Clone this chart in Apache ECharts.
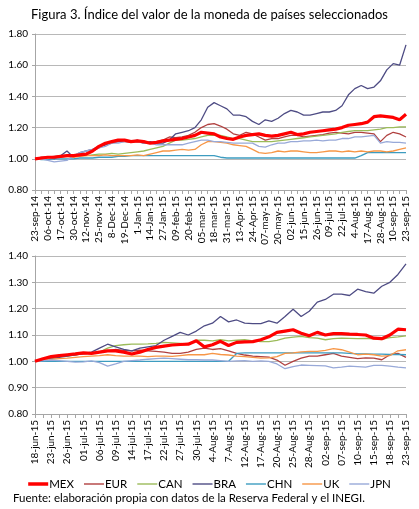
<!DOCTYPE html>
<html>
<head>
<meta charset="utf-8">
<script src="https://cdn.jsdelivr.net/npm/echarts@6/dist/echarts.min.js"></script>
<style>html,body{margin:0;padding:0;background:#fff;}#c{width:419px;height:509px;}</style>
</head>
<body>
<div id="c"></div>
<script>
// ---- Data: top panel (23-sep-14 .. 23-sep-15) ----
const topDates = ['23-sep-14','29-sep-14','06-oct-14','10-oct-14','17-oct-14','23-oct-14','30-oct-14','05-nov-14','12-nov-14','18-nov-14','25-nov-14','01-dec-14','8-Dec-14','12-Dec-14','19-Dec-14','25-Dec-14','1-Jan-15','07-jan-15','14-Jan-15','20-jan-15','27-Jan-15','02-feb-15','09-feb-15','13-feb-15','20-feb-15','26-feb-15','05-mar-15','11-mar-15','18-mar-15','24-mar-15','31-mar-15','06-apr-15','13-Apr-15','17-apr-15','24-Apr-15','30-apr-15','07-may-15','13-may-15','20-may-15','26-may-15','02-jun-15','08-jun-15','15-jun-15','19-jun-15','26-jun-15','02-jul-15','09-jul-15','15-jul-15','22-jul-15','28-jul-15','4-Aug-15','11-Aug-15','17-Aug-15','21-Aug-15','28-Aug-15','03-sep-15','10-sep-15','16-sep-15','23-sep-15'];
const topMEX = [1.00,1.005,1.01,1.01,1.015,1.02,1.02,1.025,1.03,1.05,1.08,1.10,1.11,1.12,1.12,1.11,1.115,1.11,1.10,1.105,1.115,1.12,1.125,1.13,1.14,1.15,1.17,1.165,1.16,1.14,1.13,1.125,1.14,1.15,1.155,1.16,1.15,1.145,1.15,1.16,1.17,1.155,1.16,1.17,1.175,1.18,1.185,1.19,1.20,1.215,1.22,1.225,1.235,1.27,1.275,1.27,1.265,1.25,1.285];
const topEUR = [1.00,1.01,1.01,1.015,1.02,1.02,1.025,1.03,1.035,1.05,1.07,1.09,1.10,1.11,1.11,1.105,1.11,1.10,1.10,1.11,1.12,1.14,1.135,1.14,1.15,1.17,1.20,1.22,1.225,1.21,1.19,1.16,1.15,1.17,1.16,1.14,1.12,1.13,1.13,1.14,1.15,1.15,1.14,1.145,1.15,1.155,1.165,1.17,1.165,1.16,1.17,1.17,1.165,1.16,1.11,1.15,1.17,1.16,1.14];
const topCAN = [1.00,1.005,1.01,1.01,1.015,1.015,1.02,1.02,1.02,1.025,1.03,1.03,1.035,1.03,1.035,1.04,1.045,1.05,1.06,1.07,1.08,1.10,1.12,1.12,1.125,1.13,1.14,1.15,1.15,1.15,1.14,1.13,1.13,1.12,1.11,1.11,1.11,1.11,1.115,1.12,1.125,1.13,1.135,1.14,1.145,1.15,1.155,1.16,1.17,1.175,1.18,1.18,1.18,1.185,1.19,1.20,1.20,1.205,1.205];
const topBRA = [1.00,1.005,1.01,1.00,1.02,1.05,1.01,1.04,1.05,1.06,1.08,1.09,1.11,1.11,1.12,1.11,1.12,1.10,1.11,1.10,1.10,1.12,1.16,1.17,1.18,1.20,1.25,1.33,1.36,1.34,1.32,1.28,1.28,1.27,1.24,1.22,1.25,1.24,1.26,1.29,1.31,1.30,1.28,1.28,1.29,1.30,1.30,1.31,1.34,1.41,1.45,1.47,1.45,1.46,1.50,1.57,1.61,1.60,1.73];
const topCHN = [1.00,0.995,0.995,1.00,1.00,1.00,1.00,1.005,1.005,1.005,1.01,1.01,1.01,1.015,1.015,1.02,1.02,1.02,1.02,1.02,1.02,1.02,1.02,1.02,1.02,1.02,1.02,1.02,1.02,1.01,1.005,1.005,1.005,1.005,1.005,1.005,1.005,1.005,1.005,1.005,1.005,1.005,1.005,1.005,1.005,1.005,1.005,1.005,1.005,1.005,1.005,1.02,1.04,1.04,1.04,1.04,1.04,1.04,1.04];
const topUK  = [1.00,1.00,1.005,1.01,1.01,1.015,1.01,1.015,1.02,1.02,1.02,1.025,1.02,1.02,1.02,1.02,1.025,1.02,1.03,1.04,1.05,1.05,1.055,1.06,1.055,1.06,1.09,1.11,1.11,1.105,1.10,1.09,1.085,1.08,1.06,1.04,1.035,1.04,1.05,1.045,1.05,1.05,1.045,1.04,1.04,1.045,1.05,1.05,1.045,1.05,1.045,1.05,1.045,1.05,1.05,1.045,1.05,1.06,1.07];
const topJPN = [1.00,1.00,0.99,0.98,0.985,0.99,1.02,1.04,1.05,1.06,1.07,1.08,1.10,1.10,1.11,1.11,1.11,1.10,1.10,1.09,1.09,1.09,1.09,1.09,1.10,1.11,1.12,1.12,1.11,1.11,1.105,1.10,1.10,1.10,1.10,1.08,1.075,1.09,1.10,1.10,1.11,1.11,1.115,1.115,1.12,1.115,1.12,1.12,1.13,1.13,1.14,1.14,1.145,1.15,1.10,1.11,1.105,1.105,1.10];

// ---- Data: bottom panel (18-jun-15 .. 23-sep-15) ----
const botDates = ['18-jun-15','22-jun-15','23-jun-15','24-jun-15','26-jun-15','29-jun-15','01-jul-15','02-jul-15','06-jul-15','07-jul-15','09-jul-15','10-jul-15','14-jul-15','15-jul-15','17-jul-15','20-jul-15','22-jul-15','23-jul-15','27-jul-15','28-jul-15','30-jul-15','31-jul-15','4-Aug-15','5-Aug-15','7-Aug-15','11-Aug-15','12-Aug-15','13-Aug-15','17-Aug-15','18-Aug-15','20-Aug-15','21-Aug-15','25-Aug-15','26-Aug-15','28-Aug-15','31-Aug-15','02-sep-15','03-sep-15','07-sep-15','08-sep-15','10-sep-15','11-sep-15','15-sep-15','16-sep-15','18-sep-15','21-sep-15','23-sep-15'];
const botMEX = [1.00,1.01,1.018,1.022,1.025,1.028,1.032,1.03,1.035,1.04,1.04,1.035,1.028,1.035,1.045,1.053,1.058,1.062,1.064,1.065,1.078,1.055,1.063,1.076,1.06,1.072,1.074,1.075,1.082,1.093,1.11,1.115,1.12,1.107,1.097,1.11,1.10,1.105,1.105,1.103,1.102,1.10,1.088,1.086,1.10,1.122,1.12];
const botEUR = [1.00,1.01,1.015,1.02,1.022,1.025,1.028,1.03,1.035,1.04,1.045,1.042,1.04,1.042,1.04,1.038,1.035,1.03,1.03,1.035,1.045,1.05,1.045,1.048,1.04,1.03,1.024,1.02,1.018,1.016,1.005,0.985,1.0,1.012,1.02,1.02,1.025,1.03,1.02,1.015,1.01,1.013,1.012,1.006,1.025,1.03,1.015];
const botCAN = [1.00,1.008,1.013,1.018,1.02,1.025,1.03,1.03,1.035,1.05,1.06,1.063,1.065,1.065,1.066,1.068,1.072,1.07,1.068,1.065,1.08,1.08,1.078,1.082,1.078,1.08,1.082,1.078,1.075,1.075,1.08,1.088,1.092,1.095,1.09,1.088,1.082,1.086,1.088,1.087,1.086,1.087,1.085,1.083,1.09,1.093,1.097];
const botBRA = [1.00,1.01,1.01,1.015,1.02,1.025,1.03,1.035,1.05,1.065,1.055,1.045,1.04,1.05,1.055,1.06,1.08,1.095,1.11,1.10,1.115,1.135,1.145,1.17,1.15,1.157,1.145,1.143,1.143,1.154,1.145,1.17,1.198,1.17,1.19,1.225,1.235,1.255,1.255,1.25,1.274,1.265,1.259,1.285,1.30,1.33,1.37];
const botCHN = [1.00,1.00,1.00,1.00,1.00,1.00,1.00,1.00,1.00,1.00,1.00,1.00,1.00,1.00,1.00,1.00,1.00,1.00,1.00,1.00,1.00,1.00,1.00,1.00,1.00,1.03,1.032,1.032,1.032,1.032,1.032,1.032,1.032,1.032,1.032,1.032,1.032,1.032,1.032,1.03,1.028,1.028,1.027,1.027,1.026,1.026,1.025];
const botUK  = [1.00,1.005,1.008,1.01,1.012,1.015,1.018,1.02,1.022,1.025,1.022,1.02,1.02,1.02,1.018,1.02,1.02,1.019,1.022,1.025,1.025,1.025,1.03,1.026,1.024,1.02,1.018,1.015,1.012,1.013,1.018,1.03,1.032,1.036,1.038,1.038,1.042,1.048,1.044,1.035,1.025,1.027,1.025,1.02,1.022,1.04,1.044];
const botJPN = [1.00,1.003,1.005,1.003,1.0,0.997,0.998,1.002,0.995,0.982,0.99,1.0,1.003,1.005,1.008,1.01,1.012,1.01,1.008,1.006,1.006,1.005,1.005,1.003,1.0,1.002,1.003,1.0,1.002,1.0,0.99,0.972,0.98,0.986,0.985,0.984,0.983,0.975,0.978,0.982,0.98,0.978,0.985,0.985,0.982,0.978,0.975];

const legendNames = ['MEX','EUR','CAN','BRA','CHN','UK','JPN'];
const titleText = 'Figura 3. Índice del valor de la moneda de países seleccionados';
const sourceText = 'Fuente: elaboración propia con datos de la Reserva Federal y el INEGI.';

// ---- Styles ----
const styles = {
  MEX: {color:'#FF0000', width:3.2},
  EUR: {color:'#B0403F', width:1.3},
  CAN: {color:'#9BBB59', width:1.3},
  BRA: {color:'#4E4C84', width:1.3},
  CHN: {color:'#3D9CC0', width:1.3},
  UK:  {color:'#F79646', width:1.3},
  JPN: {color:'#98A9D8', width:1.3}
};
const drawOrder = ['EUR','CAN','BRA','CHN','UK','JPN','MEX'];
const topData = {MEX:topMEX,EUR:topEUR,CAN:topCAN,BRA:topBRA,CHN:topCHN,UK:topUK,JPN:topJPN};
const botData = {MEX:botMEX,EUR:botEUR,CAN:botCAN,BRA:botBRA,CHN:botCHN,UK:botUK,JPN:botJPN};

const font = 'Lato';
function mkSeries(dataMap, idx){
  return drawOrder.map(n => ({
    name:n, type:'line', xAxisIndex:idx, yAxisIndex:idx,
    data:dataMap[n], symbol:'none', smooth:false,
    lineStyle:{color:styles[n].color, width:styles[n].width},
    itemStyle:{color:styles[n].color},
    emphasis:{disabled:true}
  }));
}
function mkX(dates, idx){
  return {
    type:'category', gridIndex:idx, data:dates, boundaryGap:false,
    axisLine:{lineStyle:{color:'#A6A6A6'}},
    axisTick:{show:true, interval:0, length:4, lineStyle:{color:'#A6A6A6'}},
    axisLabel:{interval:1, rotate:90, fontFamily:font, fontSize:10, color:'#000', margin:6}
  };
}
function mkY(min,max,step,idx){
  return {
    type:'value', gridIndex:idx, min:min, max:max, interval:step,
    axisLine:{show:true, lineStyle:{color:'#A6A6A6'}},
    axisTick:{show:true, length:3, lineStyle:{color:'#A6A6A6'}},
    splitLine:{lineStyle:{color:'#B8B8B8', width:1}},
    axisLabel:{formatter:v => v.toFixed(2), fontFamily:font, fontSize:10, color:'#000', margin:7}
  };
}
const legendData = legendNames.map(n => ({
  name:n,
  icon: n === 'MEX' ? 'path://M0,0L20,0L20,3.5L0,3.5Z' : 'path://M0,0L20,0L20,1.4L0,1.4Z',
  itemStyle:{color:styles[n].color, borderWidth:0}
}));

const chart = echarts.init(document.getElementById('c'), null, {renderer:'canvas'});
chart.setOption({
  animation:false,
  backgroundColor:'#fff',
  title:{text:titleText, left:'center', top:3, textStyle:{fontFamily:font, fontSize:13, fontWeight:'normal', color:'#000'}},
  graphic:[{type:'text', left:13, top:492, style:{text:sourceText, font:'11.5px Lato', fill:'#000'}}],
  legend:{data:legendData, top:473, left:'center', itemWidth:20, itemHeight:8, itemGap:10,
    textStyle:{fontFamily:font, fontSize:11.5, color:'#000', padding:[0,0,0,-4]}},
  grid:[{left:35, right:13, top:34, height:156},{left:35, right:13, top:256, height:158}],
  xAxis:[mkX(topDates,0), mkX(botDates,1)],
  yAxis:[mkY(0.8,1.8,0.2,0), mkY(0.8,1.4,0.1,1)],
  series:[...mkSeries(topData,0), ...mkSeries(botData,1)]
});
</script>
</body>
</html>
